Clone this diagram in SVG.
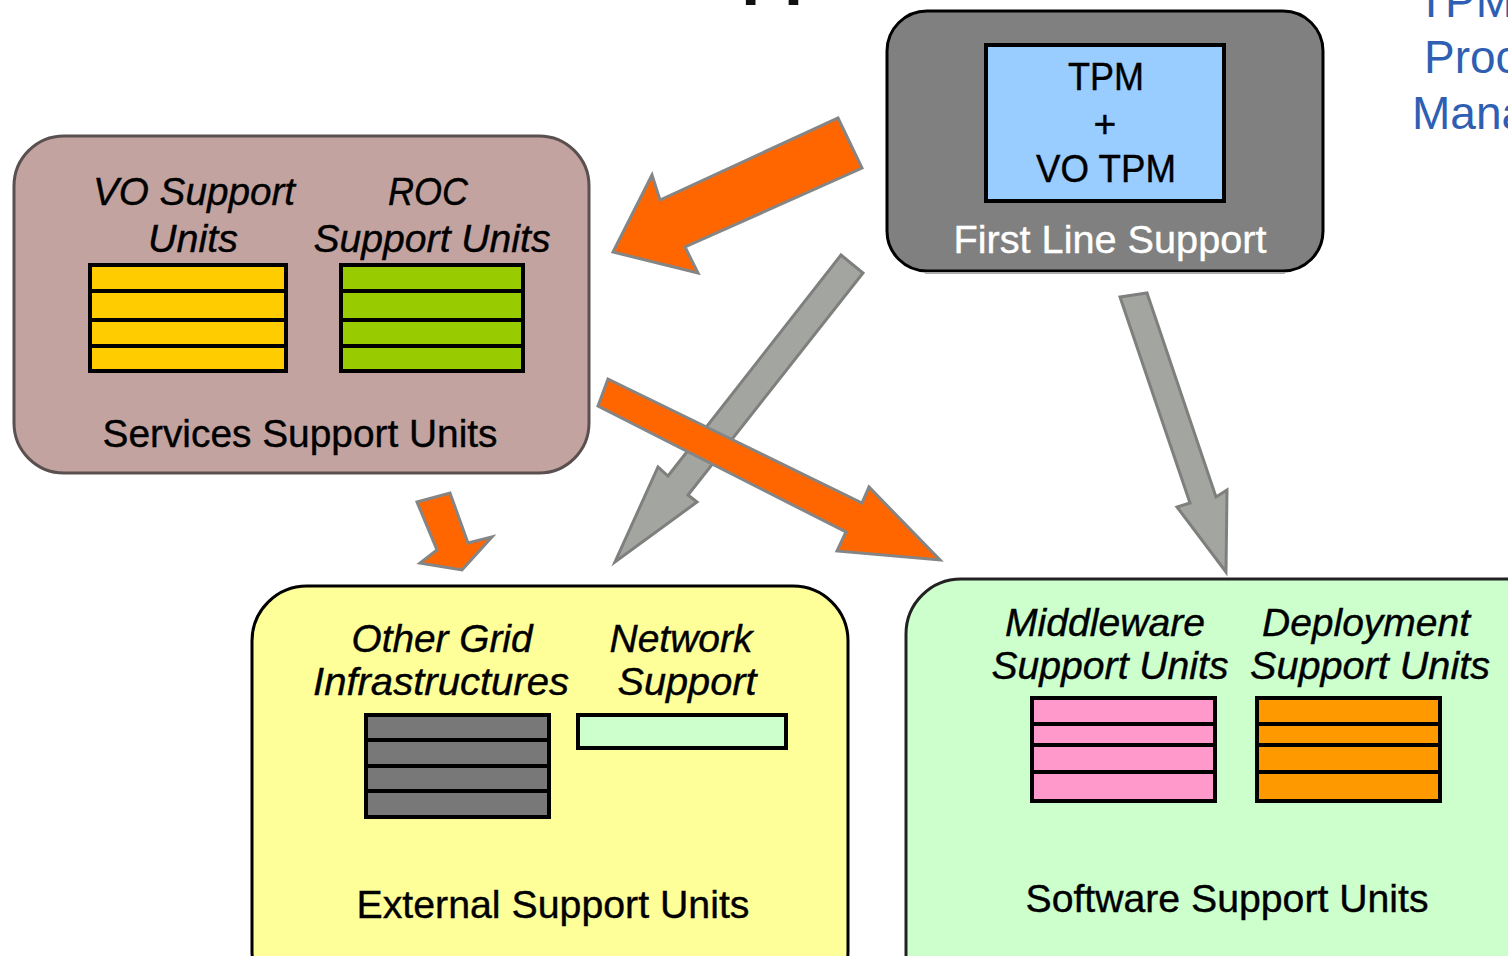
<svg xmlns="http://www.w3.org/2000/svg" width="1508" height="956" viewBox="0 0 1508 956">
<style>
.t{font-family:"Liberation Sans",Arial,sans-serif;font-size:39px;fill:#000;text-anchor:middle;stroke:#000;stroke-width:0.4px}
.it{font-style:italic}
.w{fill:#fff;stroke:#fff}
.bl{font-family:"Liberation Sans",Arial,sans-serif;font-size:46px;fill:#2F5FB3}
.stripe{stroke:#000;stroke-width:4}
.ao{fill:#FF6600;stroke:#858585;stroke-width:3;stroke-linejoin:miter}
.ag{fill:#A3A5A1;stroke:#7F807E;stroke-width:3;stroke-linejoin:miter}
</style>
<rect width="1508" height="956" fill="#fff"/>
<text x="741" y="-10" style="font-family:'Liberation Sans',Arial,sans-serif;font-size:70px;font-weight:bold;fill:#111">pp</text>
<g id="tpm-note">
<text class="bl" x="1417" y="17">TPM</text>
<text class="bl" x="1424" y="73">Proc</text>
<text class="bl" x="1412" y="129">Mana</text>
</g>
<g id="first-line-support">
<rect x="887" y="11" width="436" height="260" rx="40" fill="#808080" stroke="#000" stroke-width="3"/>
<line x1="925" y1="273" x2="1285" y2="273" stroke="#aaa" stroke-width="2"/>
<rect x="986" y="45" width="238" height="156" fill="#99CCFF" stroke="#000" stroke-width="4"/>
<text class="t" x="1106" y="90" textLength="76" lengthAdjust="spacingAndGlyphs">TPM</text>
<text class="t" x="1105" y="137">+</text>
<text class="t" x="1106" y="182" textLength="140" lengthAdjust="spacingAndGlyphs">VO TPM</text>
<text class="t w" x="1110" y="253" textLength="313" lengthAdjust="spacingAndGlyphs">First Line Support</text>
</g>
<g id="services-support-units">
<rect x="14" y="136" width="575" height="337" rx="50" fill="#C2A39F" stroke="#5A5050" stroke-width="3"/>
<text class="t it" x="194" y="205" textLength="202" lengthAdjust="spacingAndGlyphs">VO Support</text>
<text class="t it" x="193" y="252" textLength="90" lengthAdjust="spacingAndGlyphs">Units</text>
<text class="t it" x="428" y="205" textLength="80" lengthAdjust="spacingAndGlyphs">ROC</text>
<text class="t it" x="432" y="252" textLength="237" lengthAdjust="spacingAndGlyphs">Support Units</text>
<rect x="90" y="265" width="196" height="106" fill="#FFCC00" stroke="#000" stroke-width="4"/>
<path class="stripe" d="M90 291H286M90 320H286M90 346H286"/>
<rect x="341" y="265" width="182" height="106" fill="#99CC00" stroke="#000" stroke-width="4"/>
<path class="stripe" d="M341 291H523M341 320H523M341 346H523"/>
<text class="t" x="300" y="447" textLength="395" lengthAdjust="spacingAndGlyphs">Services Support Units</text>
</g>
<g id="external-support-units">
<rect x="252" y="586" width="596" height="420" rx="55" fill="#FFFF99" stroke="#000" stroke-width="3"/>
<text class="t it" x="442" y="652" textLength="181" lengthAdjust="spacingAndGlyphs">Other Grid</text>
<text class="t it" x="441" y="695" textLength="256" lengthAdjust="spacingAndGlyphs">Infrastructures</text>
<text class="t it" x="681" y="652" textLength="143" lengthAdjust="spacingAndGlyphs">Network</text>
<text class="t it" x="687" y="695" textLength="139" lengthAdjust="spacingAndGlyphs">Support</text>
<rect x="366" y="715" width="183" height="102" fill="#787878" stroke="#000" stroke-width="4"/>
<path class="stripe" d="M366 740H549M366 766H549M366 791H549"/>
<rect x="578" y="715" width="208" height="33" fill="#CCFFCC" stroke="#000" stroke-width="4"/>
<text class="t" x="553" y="918" textLength="393" lengthAdjust="spacingAndGlyphs">External Support Units</text>
</g>
<g id="software-support-units">
<rect x="906" y="579" width="660" height="430" rx="55" fill="#CCFFCC" stroke="#222" stroke-width="3"/>
<text class="t it" x="1105" y="636" textLength="200" lengthAdjust="spacingAndGlyphs">Middleware</text>
<text class="t it" x="1110" y="679" textLength="237" lengthAdjust="spacingAndGlyphs">Support Units</text>
<text class="t it" x="1366" y="636" textLength="208" lengthAdjust="spacingAndGlyphs">Deployment</text>
<text class="t it" x="1370" y="679" textLength="240" lengthAdjust="spacingAndGlyphs">Support Units</text>
<rect x="1032" y="698" width="183" height="103" fill="#FF99CC" stroke="#000" stroke-width="4"/>
<path class="stripe" d="M1032 724H1215M1032 745H1215M1032 772H1215"/>
<rect x="1257" y="698" width="183" height="103" fill="#FF9900" stroke="#000" stroke-width="4"/>
<path class="stripe" d="M1257 724H1440M1257 745H1440M1257 772H1440"/>
<text class="t" x="1227" y="912" textLength="403" lengthAdjust="spacingAndGlyphs">Software Support Units</text>
</g>
<g id="connectors">
<polygon class="ao" points="838,118 862,168 685,247 698,273 613,252 652,175 660,200"/>
<polygon class="ag" points="841,255 863,273 688,495 697,502 615,562 658,467 668,476"/>
<polygon class="ao" points="608,379 862,503 869,487 940,560 837,551 846,532 598,406"/>
<polygon class="ao" points="417,502 450,493 468,543 492,537 462,570 420,563 437,550"/>
<polygon class="ag" points="1120,297 1147,293 1216,497 1227,490 1226,572 1177,507 1190,503"/>
</g>
</svg>
